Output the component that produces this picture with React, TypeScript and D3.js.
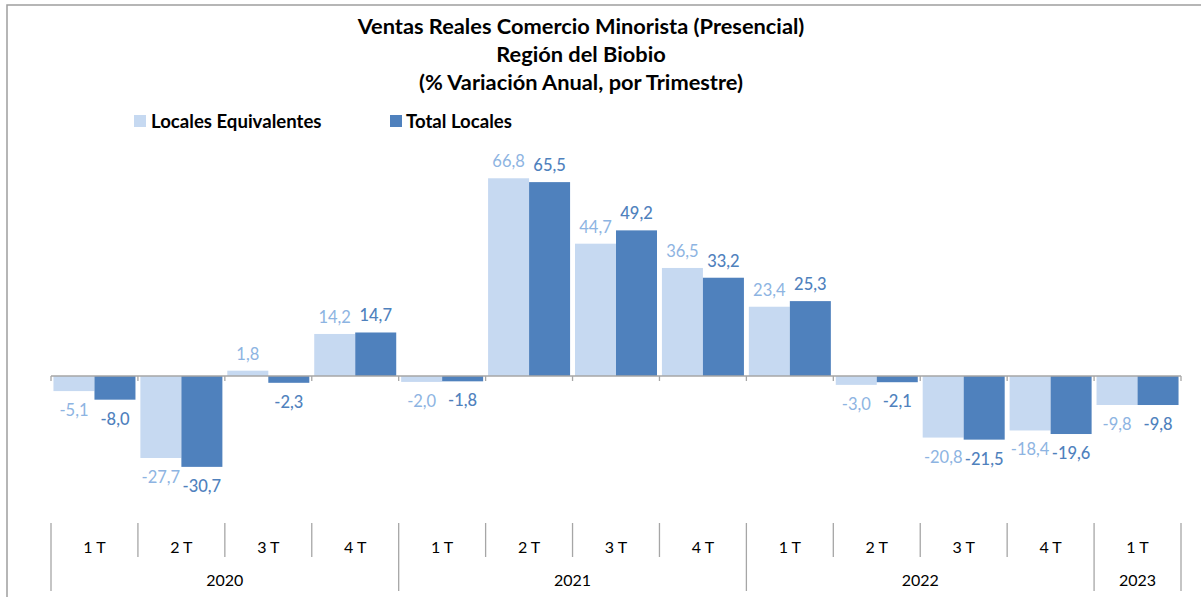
import React from "react";
import * as d3 from "d3";

const quarters = ["1 T", "2 T", "3 T", "4 T", "1 T", "2 T", "3 T", "4 T", "1 T", "2 T", "3 T", "4 T", "1 T"];
const years = ["2020", "2021", "2022", "2023"];
const yearSpans = [4, 4, 4, 1];
const equivalentes = [-5.1, -27.7, 1.8, 14.2, -2.0, 66.8, 44.7, 36.5, 23.4, -3.0, -20.8, -18.4, -9.8];
const totales = [-8.0, -30.7, -2.3, 14.7, -1.8, 65.5, 49.2, 33.2, 25.3, -2.1, -21.5, -19.6, -9.8];
const seriesNames = ["Locales Equivalentes", "Total Locales"];
const titleLines = [
  "Ventas Reales Comercio Minorista (Presencial)",
  "Región del Biobio",
  "(% Variación Anual, por Trimestre)",
];

const W = 1201;
const H = 597;
const LIGHT = "#C6D9F1";
const DARK = "#4F81BD";
const LIGHT_LABEL = "#8DB4E2";
const DARK_LABEL = "#4F81BD";
const GRID = "#A6A6A6";
const FONT = "Lato, 'Open Sans', sans-serif";

const fmt = (v: number) => v.toFixed(1).replace(".", ",");

export default function App() {
  const x = d3.scaleBand<number>().domain(d3.range(quarters.length)).range([51, 1181]).paddingInner(0).paddingOuter(0);
  const xi = d3.scaleBand<string>().domain(["e", "t"]).range([0, x.bandwidth()]).paddingInner(0).paddingOuter(0.06);
  const y = d3.scaleLinear().domain([-40, 70]).range([376 + 40 * 2.96, 376 - 70 * 2.96]);
  const y0 = y(0);

  const series = [
    { key: "e", values: equivalentes, fill: LIGHT, label: LIGHT_LABEL, weight: 400 },
    { key: "t", values: totales, fill: DARK, label: DARK_LABEL, weight: 500 },
  ];

  const boundaries = d3.range(quarters.length + 1).map((i) => (i < quarters.length ? x(i)! : x(quarters.length - 1)! + x.bandwidth()));
  const yearStarts = d3.cumsum([0, ...yearSpans]);
  const yearBoundaryIdx = new Set(Array.from(yearStarts));

  return (
    <svg width={W} height={H} style={{ position: "absolute", left: 0, top: 0, display: "block" }} fontFamily={FONT}>
      <rect x={0} y={0} width={W} height={H} fill="#fff" />
      <rect x={7} y={5} width={W + 10} height={H + 10} fill="none" stroke="#9E9E9E" strokeWidth={1.5} />

      {titleLines.map((t, i) => (
        <text key={i} x={581} y={34 + i * 28} textAnchor="middle" fontSize={21.8} fontWeight={700} fill="#000">
          {t}
        </text>
      ))}

      {/* legend */}
      <rect x={134} y={115} width={12} height={12} fill={LIGHT} />
      <text x={151} y={127.5} fontSize={18.6} fontWeight={700} fill="#000">{seriesNames[0]}</text>
      <rect x={390} y={115} width={12} height={12} fill={DARK} />
      <text x={406} y={127.5} fontSize={18.6} fontWeight={700} fill="#000">{seriesNames[1]}</text>

      {/* bars */}
      {series.map((s) =>
        s.values.map((v, i) => {
          const bx = x(i)! + xi(s.key)!;
          const top = Math.min(y(v), y0);
          const h = Math.abs(y(v) - y0);
          return <rect key={s.key + i} x={bx} y={top} width={xi.bandwidth()} height={h} fill={s.fill} />;
        })
      )}

      {/* axis line and ticks */}
      <line x1={51} x2={1181} y1={y0} y2={y0} stroke={GRID} strokeWidth={1.3} />
      {boundaries.map((bx, i) => (
        <line key={"tk" + i} x1={bx} x2={bx} y1={y0} y2={y0 + 5} stroke={GRID} strokeWidth={1.3} />
      ))}

      {/* labels */}
      {series.map((s) =>
        s.values.map((v, i) => {
          const cx = x(i)! + xi(s.key)! + xi.bandwidth() / 2;
          const ly = v >= 0 ? y(v) - 11 : y(v) + 25;
          return (
            <text key={"l" + s.key + i} x={cx} y={ly} textAnchor="middle" fontSize={16.5} fontWeight={s.weight} fill={s.label}>
              {fmt(v)}
            </text>
          );
        })
      )}

      {/* multi-level category axis */}
      {boundaries.map((bx, i) => (
        <line key={"sep" + i} x1={bx} x2={bx} y1={523} y2={yearBoundaryIdx.has(i) ? 591 : 557} stroke={GRID} strokeWidth={1.3} />
      ))}
      {quarters.map((q, i) => (
        <text key={"q" + i} x={x(i)! + x.bandwidth() / 2} y={553} textAnchor="middle" fontSize={16} fill="#000">
          {q}
        </text>
      ))}
      {years.map((yr, k) => {
        const a = boundaries[yearStarts[k]];
        const b = boundaries[yearStarts[k + 1]];
        return (
          <text key={"y" + k} x={(a + b) / 2} y={586} textAnchor="middle" fontSize={16} fill="#000">
            {yr}
          </text>
        );
      })}
    </svg>
  );
}
